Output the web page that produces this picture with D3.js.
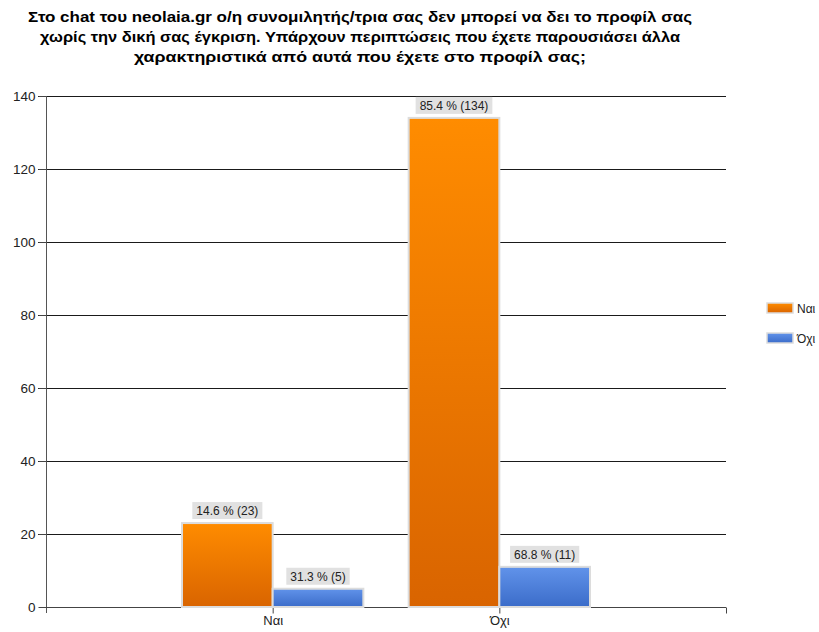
<!DOCTYPE html>
<html><head><meta charset="utf-8">
<script src="https://cdn.jsdelivr.net/npm/d3@7"></script>
<style>body{margin:0;background:#fff}svg{display:block}</style>
</head><body>
<svg id="c" width="819" height="632"></svg>
<script>
const titleLines = [
  "Στο chat του neolaia.gr ο/η συνομιλητής/τρια σας δεν μπορεί να δει το προφίλ σας",
  "χωρίς την δική σας έγκριση. Υπάρχουν περιπτώσεις που έχετε παρουσιάσει άλλα",
  "χαρακτηριστικά από αυτά που έχετε στο προφίλ σας;"
];
const categories = ["Ναι", "Όχι"];
const seriesNames = ["Ναι", "Όχι"];
const naiValues = [23, 134];
const oxiValues = [5, 11];
const naiPct = ["14.6", "85.4"];
const oxiPct = ["31.3", "68.8"];
const yTicks = [0, 20, 40, 60, 80, 100, 120, 140];

const svg = d3.select("#c");
const font = "'Liberation Sans', Arial, sans-serif";
const L = 46, R = 726, T = 96, B = 607;

const defs = svg.append("defs");
const g1 = defs.append("linearGradient").attr("id","gO").attr("x1",0).attr("y1",0).attr("x2",0).attr("y2",1);
g1.append("stop").attr("offset","0%").attr("stop-color","#ff8c00");
g1.append("stop").attr("offset","100%").attr("stop-color","#d96400");
const g2 = defs.append("linearGradient").attr("id","gB").attr("x1",0).attr("y1",0).attr("x2",0).attr("y2",1);
g2.append("stop").attr("offset","0%").attr("stop-color","#6193ea");
g2.append("stop").attr("offset","100%").attr("stop-color","#3b6cc9");

// title
svg.append("g").selectAll("text").data(titleLines).join("text")
  .attr("x", 360).attr("y", (d,i)=>22 + i*20)
  .attr("text-anchor","middle").attr("font-family",font)
  .attr("font-weight","bold").attr("font-size","14.5px").attr("fill","#000")
  .attr("textLength", (d,i)=>[664,640,452][i]).attr("lengthAdjust","spacingAndGlyphs")
  .text(d=>d);

const y = d3.scaleLinear().domain([0,140]).range([B,T]);
const x = d3.scaleLinear().domain([0,3]).range([L,R]);

// gridlines
svg.append("g").selectAll("line").data(yTicks.filter(v=>v>0)).join("line")
  .attr("x1",L-8).attr("x2",R).attr("y1",d=>Math.round(y(d))+0.5).attr("y2",d=>Math.round(y(d))+0.5)
  .attr("stroke","#1a1a1a").attr("stroke-width",1);

// y axis
const yAxis = svg.append("g").attr("transform",`translate(${L+0.5},0)`)
  .call(d3.axisLeft(y).tickValues(yTicks).tickSize(8).tickPadding(3));
yAxis.select(".domain").attr("stroke","#555").attr("d",`M0,${T}V${B+6}`);
yAxis.selectAll(".tick line").attr("stroke","#444");
yAxis.selectAll(".tick text").attr("font-family",font).attr("font-size","13.5px").attr("fill","#222");

// x axis
const xAxis = svg.append("g").attr("transform",`translate(0,${B+0.5})`)
  .call(d3.axisBottom(x).tickValues([1,2,3]).tickSize(6).tickPadding(2)
    .tickFormat(d=>categories[d-1]||""));
xAxis.select(".domain").attr("stroke","#444").attr("d",`M${L},0H${R}`);
xAxis.selectAll(".tick line").attr("stroke","#444");
xAxis.selectAll(".tick text").attr("font-family",font).attr("font-size","13px").attr("fill","#222");

// bars
const bw = 0.4;
const series = [
  {vals: naiValues, pct: naiPct, fill: "url(#gO)", off: -bw},
  {vals: oxiValues, pct: oxiPct, fill: "url(#gB)", off: 0}
];
series.forEach(s=>{
  const gb = svg.append("g");
  s.vals.forEach((v,i)=>{
    const x0 = x(i+1+s.off), x1 = x(i+1+s.off+bw);
    gb.append("rect").attr("x",x0).attr("y",y(v)).attr("width",x1-x0).attr("height",B-y(v))
      .attr("fill",s.fill).attr("stroke","#dcdcdc").attr("stroke-width",2);
    const label = `${s.pct[i]} % (${v})`;
    const cx = (x0+x1)/2;
    const t = gb.append("text").attr("x",cx).attr("y",y(v)-8)
      .attr("text-anchor","middle").attr("font-family",font).attr("font-size","12px")
      .attr("fill","#222").text(label);
    const bb = t.node().getBBox();
    gb.insert("rect", () => t.node()).attr("x",bb.x-4).attr("y",y(v)-21).attr("width",bb.width+8).attr("height",17)
      .attr("fill","#e1e1e1");
  });
});

// legend
const lg = svg.append("g");
seriesNames.forEach((n,i)=>{
  const yy = 303 + i*30;
  lg.append("rect").attr("x",767).attr("y",yy).attr("width",26).attr("height",10)
    .attr("fill", i===0?"url(#gO)":"url(#gB)").attr("stroke","#dcdcdc").attr("stroke-width",1.5);
  lg.append("text").attr("x",797).attr("y",yy+10).attr("font-family",font).attr("font-size","12px")
    .attr("fill","#222").text(n);
});
</script>
</body></html>
